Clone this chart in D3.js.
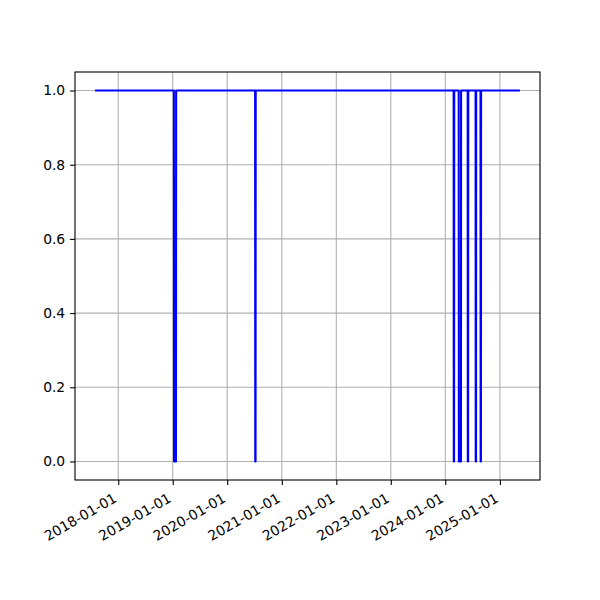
<!DOCTYPE html>
<html>
<head>
<meta charset="utf-8">
<script src="https://cdn.jsdelivr.net/npm/d3@7"></script>
<style>
  html, body { margin: 0; padding: 0; background: #fff; }
  svg { display: block; }
  text { font-family: "DejaVu Sans", sans-serif; font-size: 13.89px; fill: #000; }
</style>
</head>
<body>
<svg id="chart" width="600" height="600"></svg>
<script>
// ---- data ----
const dates = [
  "2017-08-06", "2019-01-09", "2019-01-10", "2019-01-23", "2019-01-24",
  "2020-07-06", "2020-07-07", "2020-07-09", "2020-07-10",
  "2024-02-26", "2024-02-27", "2024-02-29", "2024-03-01",
  "2024-03-31", "2024-04-01", "2024-04-15", "2024-04-16",
  "2024-05-30", "2024-05-31", "2024-06-02", "2024-06-03",
  "2024-07-22", "2024-07-23", "2024-07-25", "2024-07-26",
  "2024-08-24", "2024-08-25", "2024-08-27", "2024-08-28",
  "2025-05-08"
];
const values = [
  1, 1, 0, 0, 1,
  1, 0, 0, 1,
  1, 0, 0, 1,
  1, 0, 0, 1,
  1, 0, 0, 1,
  1, 0, 0, 1,
  1, 0, 0, 1,
  1
];
const xTickLabels = ["2018-01-01", "2019-01-01", "2020-01-01", "2021-01-01",
                     "2022-01-01", "2023-01-01", "2024-01-01", "2025-01-01"];
const yTicks = [0.0, 0.2, 0.4, 0.6, 0.8, 1.0];

// ---- layout ----
const svg = d3.select("#chart");
const L = 75, R = 540, T = 72, B = 480;
const parse = d3.utcParse("%Y-%m-%d");
const pts = dates.map((d, i) => ({ t: parse(d), v: values[i] }));

const ext = d3.extent(pts, d => d.t.getTime());
const pad = (ext[1] - ext[0]) * 0.05;
const x = d3.scaleUtc().domain([new Date(ext[0] - pad), new Date(ext[1] + pad)]).range([L, R]);
const y = d3.scaleLinear().domain([-0.05, 1.05]).range([B, T]);

const xTicks = xTickLabels.map(parse);

// grid
const grid = svg.append("g");
grid.selectAll(".gx").data(xTicks).enter().append("line")
  .attr("x1", d => x(d)).attr("x2", d => x(d))
  .attr("y1", T).attr("y2", B)
  .attr("stroke", "#b0b0b0").attr("stroke-width", 1.1);
grid.selectAll(".gy").data(yTicks).enter().append("line")
  .attr("x1", L).attr("x2", R)
  .attr("y1", d => y(d)).attr("y2", d => y(d))
  .attr("stroke", "#b0b0b0").attr("stroke-width", 1.1);

// line
const line = d3.line().x(d => x(d.t)).y(d => y(d.v));
svg.append("path").datum(pts)
  .attr("d", line)
  .attr("fill", "none")
  .attr("stroke", "#0000ff")
  .attr("stroke-width", 2.08)
  .attr("stroke-linejoin", "round")
  .attr("stroke-linecap", "square");

// frame
svg.append("rect")
  .attr("x", L).attr("y", T).attr("width", R - L).attr("height", B - T)
  .attr("fill", "none").attr("stroke", "#000").attr("stroke-width", 1.1);

// x axis
const xAxis = d3.axisBottom(x).tickValues(xTicks).tickFormat(d3.utcFormat("%Y-%m-%d"))
  .tickSize(4.9).tickPadding(4.9);
const gx = svg.append("g").attr("transform", `translate(0,${B})`).call(xAxis);
gx.select(".domain").remove();
gx.selectAll(".tick line").attr("stroke", "#000").attr("stroke-width", 1.1);
gx.selectAll(".tick text")
  .attr("text-anchor", "end")
  .attr("dy", null)
  .attr("y", 0)
  .attr("font-family", "DejaVu Sans").attr("font-size", "13.89px")
  .attr("transform", "translate(-1,21) rotate(-30)");

// y axis
const yAxis = d3.axisLeft(y).tickValues(yTicks).tickFormat(d3.format(".1f"))
  .tickSize(4.9).tickPadding(4.9);
const gy = svg.append("g").attr("transform", `translate(${L},0)`).call(yAxis);
gy.select(".domain").remove();
gy.selectAll(".tick line").attr("stroke", "#000").attr("stroke-width", 1.1);
gy.selectAll(".tick text").attr("font-family", "DejaVu Sans").attr("font-size", "13.89px");
</script>
</body>
</html>
